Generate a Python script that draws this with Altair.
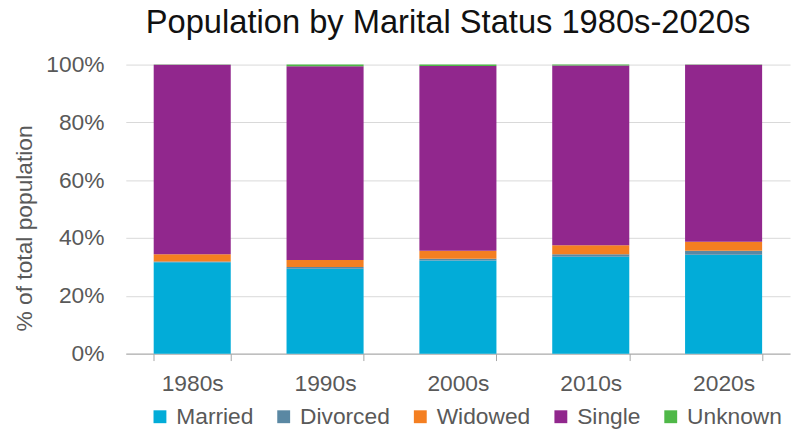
import altair as alt
import pandas as pd

decades = ["1980s", "1990s", "2000s", "2010s", "2020s"]
statuses = ["Married", "Divorced", "Widowed", "Single", "Unknown"]
colors = ["#02ACD8", "#5A88A3", "#F47F21", "#91278D", "#4FB848"]

married = [31.6, 29.4, 32.2, 33.5, 34.2]
divorced = [0.3, 0.6, 0.6, 0.9, 1.4]
widowed = [2.5, 2.4, 2.8, 3.1, 3.1]
unknown = [0.1, 0.6, 0.5, 0.3, 0.1]
single = [round(100 - m - d - w - u, 1) for m, d, w, u in zip(married, divorced, widowed, unknown)]

series = {"Married": married, "Divorced": divorced, "Widowed": widowed,
          "Single": single, "Unknown": unknown}

rows = []
for s_i, s in enumerate(statuses):
    for d_i, d in enumerate(decades):
        rows.append({"Decade": d, "Status": s, "Share": series[s][d_i] / 100, "order": s_i})
df = pd.DataFrame(rows)

font = "Liberation Sans"
gray = "#595959"

chart = alt.Chart(df).mark_bar().encode(
    x=alt.X("Decade:N", sort=decades,
            scale=alt.Scale(paddingInner=0.42, paddingOuter=0.21),
            axis=alt.Axis(title=None, labelAngle=0, labelFontSize=23, labelFont=font,
                          labelColor=gray, domainColor="#a6a6a6", tickColor="#a6a6a6",
                          tickSize=7, tickBand="extent", labelPadding=12, grid=False)),
    y=alt.Y("Share:Q", stack="zero",
            scale=alt.Scale(domain=[0, 1], nice=False),
            axis=alt.Axis(title="% of total population", format=".0%", values=[0, 0.2, 0.4, 0.6, 0.8, 1.0],
                          labelFontSize=23, labelFont=font, labelColor=gray,
                          titleFontSize=23, titleFont=font, titleColor=gray, titleFontWeight="normal",
                          titleX=-102, titleY=165, titleBaseline="middle", titleAlign="center",
                          domain=False, ticks=False, labelPadding=22,
                          gridColor="#d9d9d9", gridWidth=1)),
    color=alt.Color("Status:N", sort=statuses,
                    scale=alt.Scale(domain=statuses, range=colors),
                    legend=alt.Legend(title=None, orient="none", direction="horizontal",
                                      legendX=23, legendY=344, symbolType="square",
                                      symbolSize=169, symbolStrokeWidth=0, symbolOpacity=1,
                                      labelFontSize=23, labelFont=font, labelColor=gray,
                                      labelOffset=5, columnPadding=19, padding=0)),
    order=alt.Order("order:Q", sort="ascending"),
).properties(
    width=671,
    height=292,
    title=alt.TitleParams("Population by Marital Status 1980s-2020s", fontSize=33, font=font,
                          fontWeight="normal", color="#111111", anchor="middle",
                          baseline="alphabetic", offset=-12, dx=-10),
    padding={"left": 119, "top": 55, "right": 2, "bottom": 77},
    autosize=alt.AutoSizeParams(type="none"),
).configure_view(stroke=None)

chart.save("out.html", embed_options={"renderer": "svg", "actions": False})
